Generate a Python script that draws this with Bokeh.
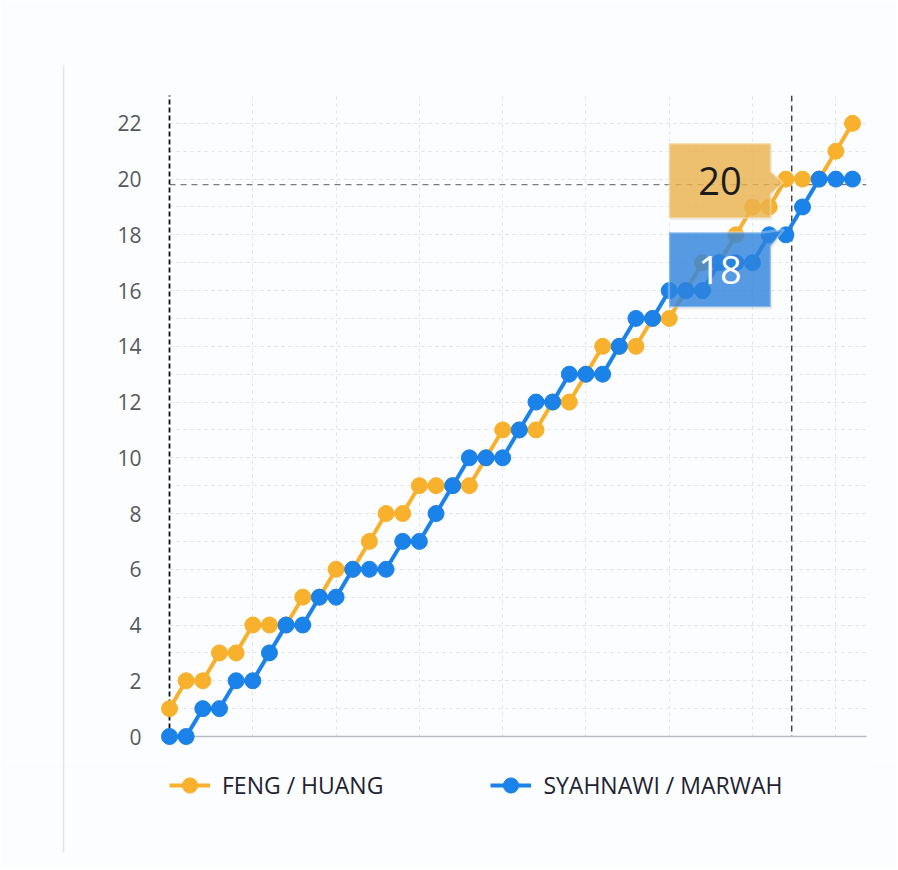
from bokeh.plotting import figure
from bokeh.layouts import column
from bokeh.models import (Range1d, FixedTicker, Span, Legend, LegendItem,
                          PolyAnnotation, Label)
from bokeh.embed import file_html
from bokeh.resources import INLINE

# ---------------- data ----------------
rally = list(range(42))
feng_huang = [1, 2, 2, 3, 3, 4, 4, 4, 5, 5,
              6, 6, 7, 8, 8, 9, 9, 9, 9, 10,
              11, 11, 11, 12, 12, 13, 14, 14, 14, 15,
              15, 16, 17, 17, 18, 19, 19, 20, 20, 20,
              21, 22]
syahnawi_marwah = [0, 0, 1, 1, 2, 2, 3, 4, 4, 5,
                   5, 6, 6, 6, 7, 7, 8, 9, 10, 10,
                   10, 11, 12, 12, 13, 13, 13, 14, 15, 15,
                   16, 16, 16, 17, 17, 17, 18, 18, 19, 20,
                   20, 20]
series_names = ["FENG / HUANG", "SYAHNAWI / MARWAH"]
y_ticks = [0, 2, 4, 6, 8, 10, 12, 14, 16, 18, 20, 22]
y_minor = list(range(0, 24))
x_grid_ticks = [0, 5, 10, 15, 20, 25, 30, 35, 40]
hover_index = 37
crosshair_x = 37.35
crosshair_y = 19.8

# ---------------- style ----------------
ORANGE = "#F8B12C"
BLUE = "#1A82E8"
BG = "#fcfdfe"
FONT = "Open Sans"
GRID = "#dfe2e6"
EDGE = "#e2e5e9"

W, H = 896, 760
FL, FR = 169, 866          # frame edges in page pixels
p = figure(width=W, height=H,
           x_range=Range1d(0, 41.84), y_range=Range1d(0, 23),
           output_backend="svg", toolbar_location=None,
           min_border_left=FL, min_border_right=W - FR,
           min_border_top=95, min_border_bottom=H - 736,
           background_fill_color=BG, border_fill_color=BG,
           outline_line_color=None)

# axes
p.xaxis.ticker = FixedTicker(ticks=[])
p.xaxis.major_tick_line_color = None
p.xaxis.minor_tick_line_color = None
p.xaxis.axis_line_color = "#b9bdc3"
p.xaxis.axis_line_width = 1.5

p.yaxis.ticker = FixedTicker(ticks=y_ticks, minor_ticks=y_minor)
p.yaxis.major_tick_line_color = None
p.yaxis.minor_tick_line_color = None
p.yaxis.axis_line_color = "#111111"
p.yaxis.axis_line_dash = "5 3"
p.yaxis.axis_line_width = 1.8
p.yaxis.major_label_standoff = 22
p.yaxis.major_label_text_font = FONT
p.yaxis.major_label_text_font_size = "21px"
p.yaxis.major_label_text_color = "#555a60"

# grid
p.xgrid.ticker = FixedTicker(ticks=x_grid_ticks)
p.xgrid.grid_line_color = GRID
p.xgrid.grid_line_dash = "3 4"
p.ygrid.grid_line_color = GRID
p.ygrid.grid_line_dash = "3 4"
p.ygrid.minor_grid_line_color = GRID
p.ygrid.minor_grid_line_dash = "3 4"

# crosshair
p.add_layout(Span(location=crosshair_x, dimension="height", line_color="#444",
                  line_dash="6 4", line_width=1.5, level="underlay"))
p.add_layout(Span(location=crosshair_y, dimension="width", line_color="#7a7a7a",
                  line_dash="6 5", line_width=1.3, level="underlay"))

# card edge (decoration, left of the plot)
p.segment(x0=[-6.36], y0=[-0.9], x1=[-6.36], y1=[24.08], line_color=EDGE,
          line_width=1.5, level="annotation")

# series
p.line(rally, feng_huang, line_color=ORANGE, line_width=4, level="annotation")
p.scatter(rally, feng_huang, size=16, fill_color=ORANGE, line_color=ORANGE,
          level="annotation")
p.line(rally, syahnawi_marwah, line_color=BLUE, line_width=4, level="annotation")
p.scatter(rally, syahnawi_marwah, size=16, fill_color=BLUE, line_color=BLUE,
          level="annotation")

# tooltips anchored to the hovered rally
h = hover_index
vo = feng_huang[h]
vb = syahnawi_marwah[h]

o_dx = [-7.02, -0.90, -0.90, -0.18, -0.90, -0.90, -7.02]
o_dy = [1.29, 1.29, 0.29, -0.14, -0.54, -1.40, -1.40]
b_dx = [-7.02, -1.32, -0.12, -0.90, -0.90, -7.02]
b_dy = [0.09, 0.09, 0.19, -0.42, -2.60, -2.60]

for dxs, dys, base, fill in [(o_dx, o_dy, vo, "#EDB550"), (b_dx, b_dy, vb, "#2F86E0")]:
    xs = [h + d + 0.08 for d in dxs]
    ys = [base + d - 0.08 for d in dys]
    p.add_layout(PolyAnnotation(xs=xs, ys=ys, fill_color="#000000", fill_alpha=0.07,
                                line_color=None, level="overlay"))
    xs = [h + d for d in dxs]
    ys = [base + d for d in dys]
    p.add_layout(PolyAnnotation(xs=xs, ys=ys, fill_color=fill, fill_alpha=0.8,
                                line_color="white", line_width=2.5, level="overlay"))

p.add_layout(Label(x=h - 3.96, y=vo - 0.05, text=str(vo), text_align="center",
                   text_baseline="middle", text_font=FONT, text_font_size="38px",
                   text_color="#1b1b1b", level="overlay"))
p.add_layout(Label(x=h - 3.96, y=vb - 1.26, text=str(vb), text_align="center",
                   text_baseline="middle", text_font=FONT, text_font_size="38px",
                   text_color="white", level="overlay"))

# ---------------- legend strip (frame aligned with the chart's frame) ----------------
LH = 108
lg = figure(width=W, height=LH, x_range=Range1d(FL, FR), y_range=Range1d(0, LH),
            output_backend="svg", toolbar_location=None,
            x_axis_location=None, y_axis_location=None,
            min_border_left=FL, min_border_right=W - FR,
            min_border_top=0, min_border_bottom=0,
            background_fill_color=BG, border_fill_color=BG,
            outline_line_color=None)
lg.xgrid.visible = False
lg.ygrid.visible = False
lg.segment(x0=[63], y0=[16], x1=[63], y1=[LH], line_color=EDGE, line_width=1.5,
           level="annotation")

nan = float("nan")
items = []
for name, col in zip(series_names, [ORANGE, BLUE]):
    r1 = lg.line(x=[nan], y=[nan], line_color=col, line_width=4)
    r2 = lg.scatter(x=[nan], y=[nan], size=16, fill_color=col, line_color=col)
    items.append(LegendItem(label=name, renderers=[r1, r2]))

legend = Legend(items=items, location=(0, 64), orientation="horizontal",
                glyph_width=41, glyph_height=38, label_height=38,
                label_standoff=12, spacing=107, padding=0, margin=0,
                border_line_color=None, background_fill_alpha=0,
                label_text_font=FONT, label_text_font_size="23px",
                label_text_color="#222230")
lg.add_layout(legend)

layout = column(p, lg, spacing=0)
open("out.html", "w").write(file_html(layout, INLINE))
